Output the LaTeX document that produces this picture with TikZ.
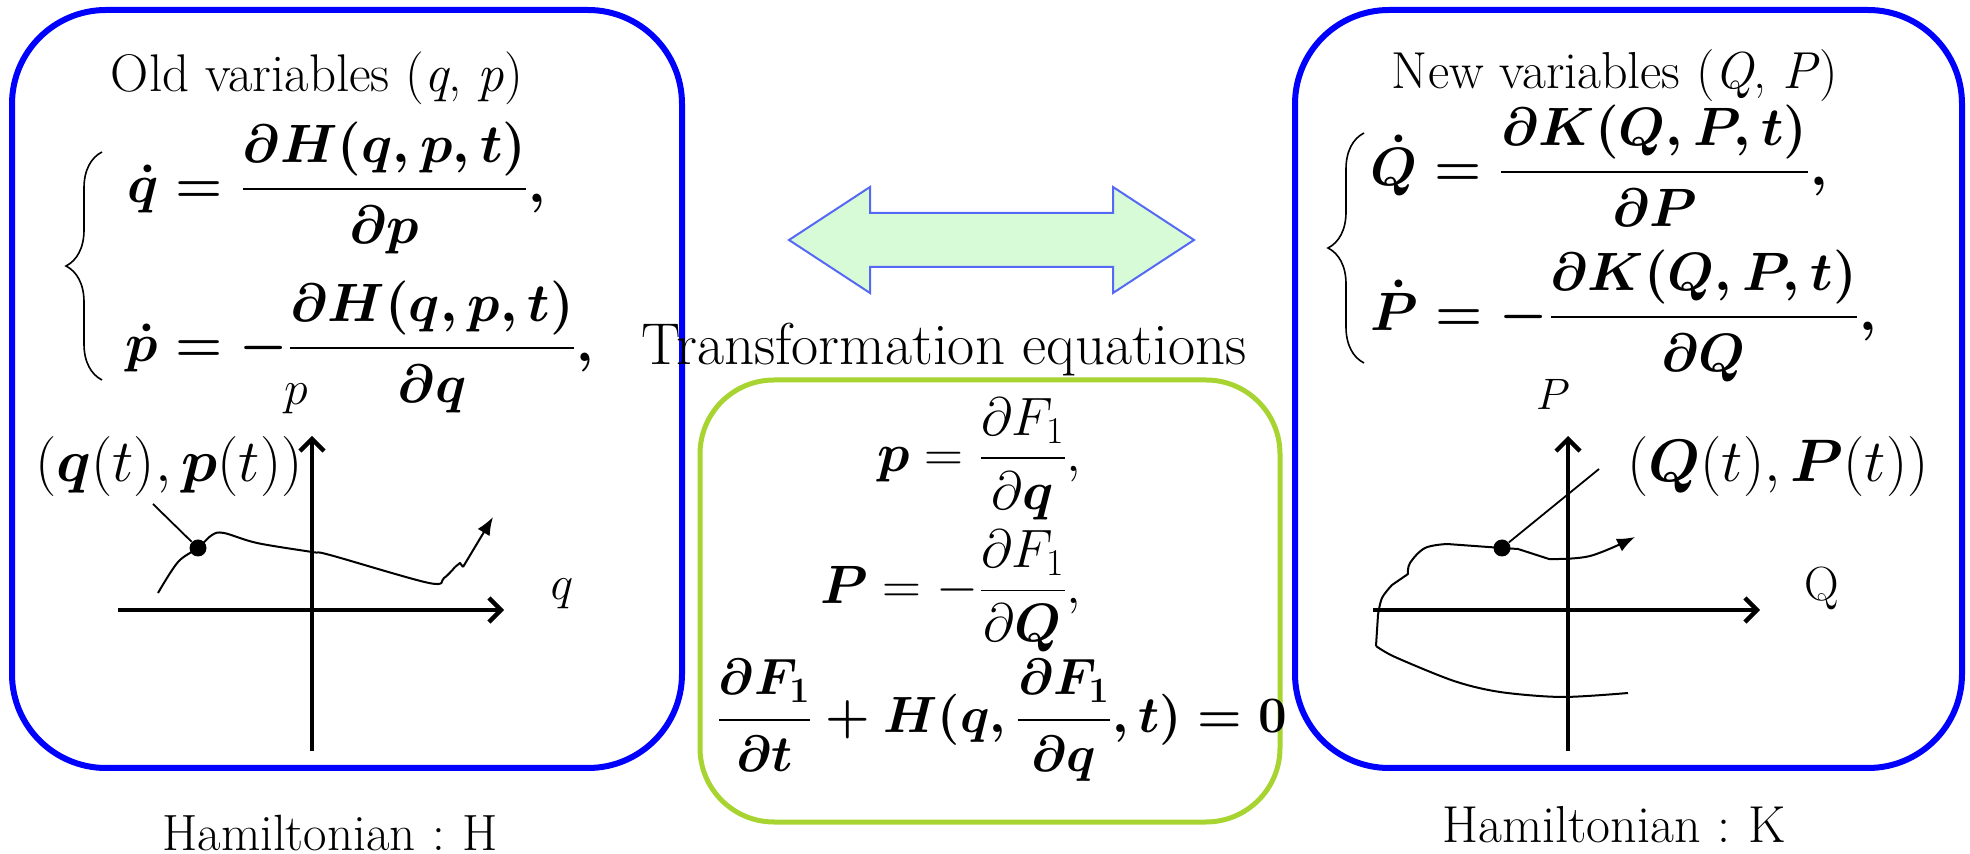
\RequirePackage{fix-cm}
\documentclass[tikz,border=0pt]{standalone}
\usepackage{amsmath}
\usepackage{bm}
\usetikzlibrary{arrows.meta,decorations.pathreplacing}
\definecolor{boxblue}{RGB}{0,0,255}
\definecolor{boxgreen}{RGB}{168,212,50}
\definecolor{arrfill}{RGB}{215,251,215}
\definecolor{arrdraw}{RGB}{85,105,245}
\newcommand{\setfs}[1]{\fontsize{#1}{#1}\selectfont}
\begin{document}
\begin{tikzpicture}[x=0.5pt,y=-0.5pt,
  bluebox/.style={draw=boxblue,line width=3pt,rounded corners=47pt,inner sep=0pt},
  greenbox/.style={draw=boxgreen,line width=2.5pt,rounded corners=37pt,inner sep=0pt},
  bigarrow/.style={draw=arrdraw,fill=arrfill,line width=1pt,line join=miter},
  axisline/.style={line width=2.2pt,-{Straight Barb[length=6pt,width=12pt,line width=2.2pt]}},
  traj/.style={line width=1pt,line join=round},
  trajarrow/.style={line width=1pt,-{Latex[length=9pt,width=7pt]}},
  leader/.style={line width=0.9pt},
  dotnode/.style={circle,fill=black,inner sep=0pt,minimum size=8.5pt},
  title/.style={inner sep=0pt,anchor=base,font=\setfs{26.5}},
  eqn/.style={inner sep=0pt,font={\setfs{27}\boldmath}},
  geqn/.style={inner sep=0pt,font=\setfs{27}},
  geqnb/.style={inner sep=0pt,font={\setfs{25.5}\boldmath}},
  axlabel/.style={inner sep=0pt,anchor=base,font=\setfs{24}},
  ptlabel/.style={inner sep=0pt,anchor=base,font=\setfs{30}},
  bracestyle/.style={decorate,decoration={brace,amplitude=18pt},line width=0.8pt}
]
\useasboundingbox (0,0) rectangle (1970,854);

% boxes
\node[bluebox,minimum width=335pt,minimum height=379pt] (oldbox) at (347,389) {};
\node[bluebox,minimum width=333.5pt,minimum height=379pt] (newbox) at (1628.5,389) {};
\node[greenbox,minimum width=290pt,minimum height=221pt] (trbox) at (990,601) {};

% double arrow
\draw[bigarrow] (789,240) -- (870,187) -- (870,213) -- (1113,213) -- (1113,187)
  -- (1194,240) -- (1113,293) -- (1113,267) -- (870,267) -- (870,293) -- cycle;

% titles
\node[title] (oldtitle) at (317,92) {Old variables (\textit{q}, \textit{p})};
\node[title,font=\setfs{26}] (newtitle) at (1615,89) {New variables (\textit{Q}, \textit{P})};
\node[title,font=\setfs{29.5}] (trtitle) at (944,365) {Transformation equations};
\node[title,font=\setfs{25.5}] (hamH) at (330,850) {Hamiltonian\,\,:\,\,H};
\node[title,font=\setfs{26}] (hamK) at (1614,842) {Hamiltonian\,\,:\,\,K};

% left equations
\node[eqn,anchor=base west] (lq) at (127,203)
  {$\displaystyle \dot{q}=\frac{\partial H(q,p,t)}{\partial p},$};
\node[eqn,anchor=base west] (lp) at (125,362)
  {$\displaystyle \dot{p}=-\frac{\partial H(q,p,t)}{\partial q},$};
\draw[bracestyle] (102,380) -- (102,152);

% right equations
\node[eqn,anchor=base west] (rQ) at (1370,186)
  {$\displaystyle \dot{Q}=\frac{\partial K(Q,P,t)}{\partial P},$};
\node[eqn,anchor=base west] (rP) at (1370,331)
  {$\displaystyle \dot{P}=-\frac{\partial K(Q,P,t)}{\partial Q},$};
\draw[bracestyle] (1364,363) -- (1364,133);

% transformation equations
\node[geqn,anchor=base east] (t1) at (1082,472)
  {$\displaystyle \bm{p}=\frac{\partial F_1}{\partial \bm{q}},$};
\node[geqn,anchor=base east] (t2) at (1082,604)
  {$\displaystyle \bm{P}=-\frac{\partial F_1}{\partial \bm{Q}},$};
\node[geqnb,anchor=base] (t3) at (1002,733)
  {$\displaystyle \frac{\partial F_1}{\partial t}+H(q,\frac{\partial F_1}{\partial q},t)=0$};

% left plot
\draw[axisline] (118,610) -- (504,610);
\draw[axisline] (312,751) -- (312,436);
\node[axlabel] (lpl) at (296,405) {$p$};
\node[axlabel] (lql) at (562,600) {$q$};
\node[ptlabel] (lpt) at (169,482) {$(\bm{q}(t),\bm{p}(t))$};
\node[dotnode] (ldot) at (198,548) {};
\coordinate (llead) at (153,504);
\draw[leader] (llead) -- (ldot);
\draw[traj] plot[smooth,tension=0.55] coordinates {(158,593) (178,562) (198,548) (212,535) (224,533) (257,543) (312,552) (330,555) (429,583) (444,578) (455,567)};
\draw[traj] (455,567) -- (460,563) -- (463,567);
\draw[trajarrow] (463,567) -- (493,517);

% right plot
\draw[axisline] (1373,610) -- (1760,610);
\draw[axisline] (1568,751) -- (1568,436);
\node[axlabel,font=\setfs{22}] (rPl) at (1553,410) {$P$};
\node[axlabel] (rQl) at (1822,601) {Q};
\node[ptlabel] (rpt) at (1778,482) {$(\bm{Q}(t),\bm{P}(t))$};
\node[dotnode] (rdot) at (1502,548) {};
\coordinate (rlead) at (1599,469);
\draw[leader] (rlead) -- (rdot);
\draw[traj] (rdot.center) -- (1447,544) plot[smooth,tension=0.6] coordinates {(1447,544) (1425,548) (1410,563) (1408,574)}
  -- (1392,585) plot[smooth,tension=0.6] coordinates {(1392,585) (1382,598) (1378,615)} -- (1376,646)
  plot[smooth,tension=0.5] coordinates {(1376,646) (1395,657) (1454,681) (1500,692) (1562,697) (1628,693)};
\draw[traj] (rdot.center) -- (1518,549) -- (1549,559);
\draw[trajarrow] plot[smooth,tension=0.6] coordinates {(1549,559) (1590,556) (1635,537)};
\end{tikzpicture}
\end{document}
